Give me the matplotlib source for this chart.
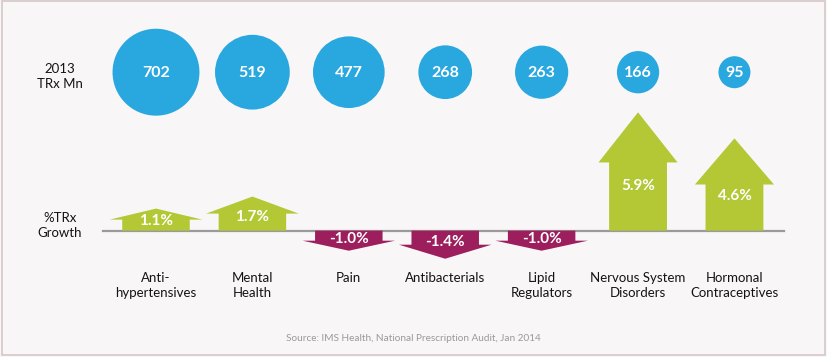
import numpy as np
import matplotlib
matplotlib.use('Agg')
import matplotlib.pyplot as plt
from matplotlib.patches import Polygon, Rectangle

''' ---- data ---- '''
categories = ['Anti-\nhypertensives', 'Mental\nHealth', 'Pain', 'Antibacterials',
              'Lipid\nRegulators', 'Nervous System\nDisorders', 'Hormonal\nContraceptives']
trx_mn = [702, 519, 477, 268, 263, 166, 95]          # 2013 TRx Mn
growth = [1.1, 1.7, -1.0, -1.4, -1.0, 5.9, 4.6]      # %TRx growth
source = 'Source: IMS Health, National Prescription Audit, Jan 2014'

''' ---- style ---- '''
bg = '#f8f6f6'
blue, green, maroon = '#29a7df', '#b3c834', '#9c1e5d'
line_col = '#9a9a9a'
txt_col = '#141414'
fam = ['Lato', 'DejaVu Sans']
plt.rcParams['font.family'] = fam

fig = plt.figure(figsize=(8.27, 3.57), dpi=100, facecolor=bg)
ax = fig.add_axes([0, 0, 1, 1])
ax.set_facecolor(bg)
ax.set_xlim(-1.618, 6.96)
ax.set_ylim(-6.3, 11.5)
ax.axis('off')

# thin frame round the picture
fig.patches.append(Rectangle((0.002, 0.006), 0.995, 0.99, transform=fig.transFigure,
                             fill=False, ec='#d6c6c8', lw=1.2))

x = np.arange(len(categories))
y_bub = 7.9

# bubbles, area ~ value
ax.scatter(x, [y_bub] * len(x), s=np.array(trx_mn) * 5.58, color=blue, lw=0, zorder=2)
for xi, v in zip(x, trx_mn):
    ax.text(xi, y_bub - 0.05, str(v), ha='center', va='center', color='white',
            fontsize=11.5, fontweight='bold', zorder=3)

# baseline
ax.plot([-0.55, 6.51], [0, 0], color=line_col, lw=1.6, zorder=1)

# growth arrows
def arrow(xc, v):
    big = abs(v) > 3
    bw = 0.30 if big else 0.35    # half body width
    hw = 0.41 if big else 0.48    # half head width
    hl = min(0.5 * abs(v), 2.5) * np.sign(v)
    base = v - hl
    pts = [(xc - bw, 0), (xc - bw, base), (xc - hw, base), (xc, v),
           (xc + hw, base), (xc + bw, base), (xc + bw, 0)]
    return Polygon(pts, closed=True, fc=green if v > 0 else maroon, ec='none', zorder=2)

for xi, v in zip(x, growth):
    ax.add_patch(arrow(xi, v))
    ax.text(xi, 0.36 * v + 0.08 * np.sign(v), '%.1f%%' % v, ha='center', va='center',
            color='white', fontsize=11, fontweight='bold', zorder=3)

# category labels
for xi, c in zip(x, categories):
    ax.text(xi, -2.05, c, ha='center', va='top', fontsize=9.5, color=txt_col,
            linespacing=1.3)

# row labels
ax.text(-1.0, 7.7, '2013\nTRx Mn', ha='center', va='center', fontsize=9.5,
        color=txt_col, linespacing=1.3)
ax.text(-1.0, 0.24, '%TRx\nGrowth', ha='center', va='center', fontsize=9.5,
        color=txt_col, linespacing=1.3)

ax.text(2.67, -5.37, source, ha='center', va='center', fontsize=7.2, color='#9a9a9a')

fig.savefig('out.png', dpi=100, facecolor=bg)
